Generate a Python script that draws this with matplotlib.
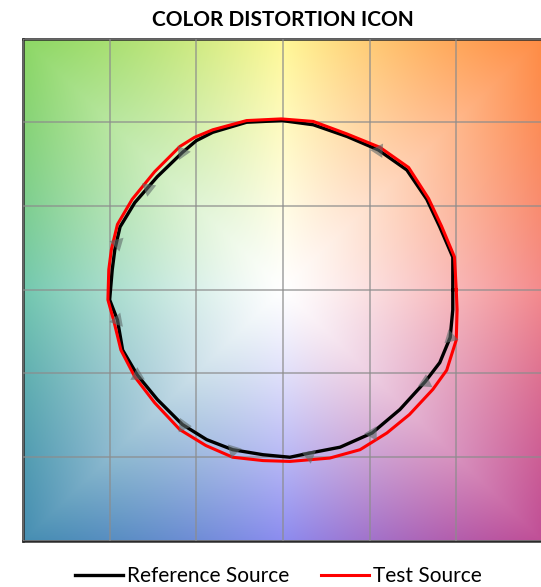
import numpy as np
import matplotlib
matplotlib.use("Agg")
import matplotlib.pyplot as plt

# Reference source contour (data units, -3..3 grid)
ref_x = [1.96, 1.96, 1.81, 1.66, 1.43, 1.10, 0.74, 0.35, -0.01, -0.42, -0.81, -1.00, -1.16,
         -1.45, -1.71, -1.88, -1.94, -1.97, -2.00, -1.91, -1.85, -1.68, -1.45, -1.16,
         -0.88, -0.58, -0.23, 0.08, 0.31, 0.66, 1.03, 1.35, 1.64, 1.81, 1.93, 1.96]
ref_y = [0.00, 0.39, 0.75, 1.08, 1.43, 1.67, 1.83, 1.97, 2.02, 2.00, 1.88, 1.78, 1.64,
         1.35, 1.04, 0.75, 0.48, 0.24, -0.12, -0.36, -0.72, -1.02, -1.31, -1.61,
         -1.79, -1.91, -1.97, -2.00, -1.95, -1.88, -1.71, -1.43, -1.10, -0.87, -0.57, -0.24]

# Test source contour
test_x = [2.00, 1.98, 1.83, 1.68, 1.45, 1.12, 0.74, 0.35, -0.02, -0.42, -0.81, -1.02, -1.19,
          -1.48, -1.74, -1.91, -1.98, -2.01, -2.02, -1.95, -1.87, -1.71, -1.48, -1.19,
          -0.89, -0.58, -0.23, 0.08, 0.54, 0.89, 1.20, 1.46, 1.73, 1.89, 2.00, 2.01]
test_y = [0.00, 0.39, 0.76, 1.09, 1.46, 1.70, 1.86, 2.01, 2.04, 2.02, 1.91, 1.82, 1.71,
          1.41, 1.08, 0.78, 0.48, 0.24, -0.12, -0.38, -0.72, -1.04, -1.35, -1.67,
          -1.86, -2.00, -2.04, -2.05, -2.01, -1.91, -1.71, -1.49, -1.19, -0.96, -0.60, -0.24]

# small arrow heads sitting on the reference contour
arrow_x = [1.10, -1.16, -1.56, -1.92, -1.92, -1.68, -1.15, -0.58, 0.30, 1.03, 1.64, 1.93]
arrow_y = [1.67, 1.65, 1.22, 0.56, -0.36, -1.02, -1.61, -1.91, -1.97, -1.71, -1.10, -0.57]

# background hue colours around the square edge (angle in degrees)
bg_angles = [0, 45, 90, 135, 180, 225, 270, 315, 360]
bg_colors = [(244, 138, 140), (255, 140, 68), (255, 248, 150), (140, 215, 100),
             (115, 200, 175), (70, 142, 178), (140, 140, 240), (192, 78, 150),
             (244, 138, 140)]

fig = plt.figure(figsize=(5.41, 5.87), dpi=100)
ax = fig.add_axes([0.0425, 0.0784, 0.961, 0.856])

# background
g = np.linspace(-3, 3, 400)
X, Y = np.meshgrid(g, g)
ang = np.degrees(np.arctan2(Y, X)) % 360
t = (np.maximum(np.abs(X), np.abs(Y)) / 3.0) ** 1.2
cols = np.array(bg_colors) / 255.0
img = np.zeros(X.shape + (3,))
for k in range(3):
    c = np.interp(ang, bg_angles, cols[:, k])
    img[..., k] = 1 - (1 - c) * t
ax.imshow(img, extent=[-3, 3, -3, 3], origin="lower", aspect="auto",
          interpolation="bilinear", zorder=0)

ax.plot(ref_x + ref_x[:1], ref_y + ref_y[:1], color="black", lw=2.4,
        solid_joinstyle="round", zorder=3, label="Reference Source")
ax.plot(test_x + test_x[:1], test_y + test_y[:1], color="#ff0000", lw=2.2,
        solid_joinstyle="round", zorder=4, label="Test Source")

for xa, ya in zip(arrow_x, arrow_y):
    rot = np.degrees(np.arctan2(ya, xa))
    ax.plot(xa, ya, marker=(3, 1, rot - 90), ms=12, color="#5f6a6a", alpha=0.6,
            mew=0, zorder=5)

ax.set_xlim(-3, 3)
ax.set_ylim(-3, 3)
ax.set_xticks(range(-3, 4))
ax.set_yticks(range(-3, 4))
ax.tick_params(length=0, labelbottom=False, labelleft=False)
ax.grid(True, color="#8c8c8c", lw=1.1, alpha=0.8, zorder=1)
ax.set_axisbelow(False)
for s in ax.spines.values():
    s.set_color("#2b2b2b")
    s.set_linewidth(1.8)

fig.text(0.523, 0.966, "COLOR DISTORTION ICON", ha="center", va="center",
         fontsize=15, fontweight="bold", family="Lato")

fig.legend(loc="lower center", bbox_to_anchor=(0.515, -0.03), ncol=2, frameon=False,
           prop={"family": "Lato", "size": 15}, handlelength=2.3,
           handletextpad=0.2, columnspacing=1.5)

fig.savefig("out.png", dpi=100)
